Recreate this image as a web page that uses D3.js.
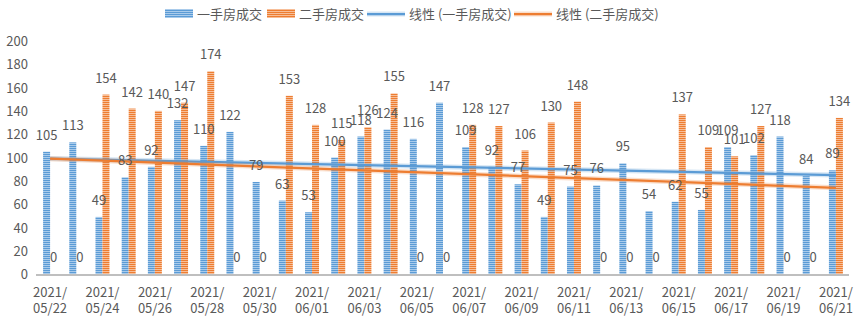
<!DOCTYPE html>
<html>
<head>
<meta charset="utf-8">
<script src="https://cdn.jsdelivr.net/npm/d3@7"></script>
<style>
  html, body { margin: 0; padding: 0; background: #fff; }
  svg { display: block; }
  text { font-family: "Noto Sans CJK SC", "Microsoft YaHei", sans-serif; fill: #595959; }
</style>
</head>
<body>
<svg id="chart" width="858" height="323"></svg>
<script>
// Daily transactions, 2021/05/22 – 2021/06/21
const dates = [
  "2021/05/22","2021/05/23","2021/05/24","2021/05/25","2021/05/26","2021/05/27","2021/05/28",
  "2021/05/29","2021/05/30","2021/05/31","2021/06/01","2021/06/02","2021/06/03","2021/06/04",
  "2021/06/05","2021/06/06","2021/06/07","2021/06/08","2021/06/09","2021/06/10","2021/06/11",
  "2021/06/12","2021/06/13","2021/06/14","2021/06/15","2021/06/16","2021/06/17","2021/06/18",
  "2021/06/19","2021/06/20","2021/06/21"
];
const newHomes = [105,113,49,83,92,132,110,122,79,63,53,100,118,124,116,147,109,92,77,49,75,76,95,54,62,55,109,102,118,84,89];
const resaleHomes = [0,0,154,142,140,147,174,0,0,153,128,115,126,155,0,0,128,127,106,130,148,0,0,0,137,109,101,127,0,0,134];
const seriesNames = ["一手房成交", "二手房成交"];
const trendNames = ["线性 (一手房成交)", "线性 (二手房成交)"];
const yTicks = [0,20,40,60,80,100,120,140,160,180,200];

const colors = ["#5B9BD5", "#ED7D31"];
const stripeLight = ["#A9CBEB", "#F7BE98"];

const svg = d3.select("#chart");
const defs = svg.append("defs");
colors.forEach((c, i) => {
  const p = defs.append("pattern")
    .attr("id", "stripe" + i)
    .attr("patternUnits", "userSpaceOnUse")
    .attr("width", 8).attr("height", 2);
  p.append("rect").attr("width", 8).attr("height", 2).attr("fill", stripeLight[i]);
  p.append("rect").attr("width", 8).attr("height", 1).attr("fill", c);
});

const x = d3.scaleBand().domain(dates).range([37, 849]).paddingInner(0.466).paddingOuter(0.233);
const xs = d3.scaleBand().domain([0, 1]).range([0, x.bandwidth()]);
const y = d3.scaleLinear().domain([0, 200]).range([274, 41]);

// y axis labels (no axis line, no gridlines)
const yAxis = d3.axisLeft(y).tickValues(yTicks).tickSize(0).tickPadding(0);
const gy = svg.append("g").attr("transform", "translate(28,0)").call(yAxis);
gy.select(".domain").remove();
gy.selectAll("text").style("font-size", "13px").attr("fill", "#595959").attr("dy", "0.36em");

// x axis with two-line date labels on every second day
const gx = svg.append("g").attr("transform", "translate(0,274)")
  .call(d3.axisBottom(x).tickSize(0).tickFormat(""));
gx.select(".domain").attr("stroke", "#BFBFBF").attr("stroke-width", 2)
  .attr("d", "M36,1H849");
gx.selectAll(".tick").each(function(d, i) {
  if (i % 2 !== 0) return;
  const t = d3.select(this).append("text")
    .attr("text-anchor", "middle").style("font-size", "13px").attr("fill", "#595959");
  const parts = d.split("/");
  t.append("tspan").attr("x", 0).attr("y", 23).text(parts[0] + "/");
  t.append("tspan").attr("x", 0).attr("y", 39).text(parts[1] + "/" + parts[2]);
});

const series = [newHomes, resaleHomes];

// bars
series.forEach((vals, s) => {
  svg.append("g").selectAll("rect").data(vals).join("rect")
    .attr("x", (d, i) => x(dates[i]) + xs(s))
    .attr("y", d => y(d))
    .attr("width", xs.bandwidth())
    .attr("height", d => y(0) - y(d))
    .attr("fill", `url(#stripe${s})`);
});

// linear trend lines (least squares over day index)
function fit(vals) {
  const n = vals.length;
  const xm = d3.mean(vals, (d, i) => i);
  const ym = d3.mean(vals);
  let num = 0, den = 0;
  vals.forEach((v, i) => { num += (i - xm) * (v - ym); den += (i - xm) * (i - xm); });
  const b = num / den, a = ym - b * xm;
  return [0, n - 1].map(i => [i, a + b * i]);
}
const cx = i => x(dates[i]) + x.bandwidth() / 2;
const trendLine = d3.line().x(d => cx(d[0])).y(d => y(d[1]));
series.forEach((vals, s) => {
  const pts = fit(vals);
  svg.append("path").attr("d", trendLine(pts)).attr("fill", "none")
    .attr("stroke", colors[s]).attr("stroke-opacity", 0.25).attr("stroke-width", 5);
  svg.append("path").attr("d", trendLine(pts)).attr("fill", "none")
    .attr("stroke", colors[s]).attr("stroke-width", 2.25);
});

// data labels
series.forEach((vals, s) => {
  svg.append("g").selectAll("text").data(vals).join("text")
    .attr("x", (d, i) => x(dates[i]) + xs(s) + xs.bandwidth() / 2)
    .attr("y", d => y(d) - 12)
    .attr("text-anchor", "middle")
    .style("font-size", "13px")
    .attr("fill", "#404040")
    .text(d => d);
});

// legend
const lg = svg.append("g").attr("transform", "translate(0,14)");
const items = [
  { type: "bar", s: 0, x: 165, label: seriesNames[0] },
  { type: "bar", s: 1, x: 267, label: seriesNames[1] },
  { type: "line", s: 0, x: 367, label: trendNames[0] },
  { type: "line", s: 1, x: 514, label: trendNames[1] }
];
items.forEach(it => {
  if (it.type === "bar") {
    lg.append("rect").attr("x", it.x).attr("y", -5).attr("width", 28).attr("height", 9)
      .attr("fill", `url(#stripe${it.s})`);
    lg.append("text").attr("x", it.x + 32).attr("y", 0).attr("dy", "0.36em")
      .style("font-size", "13px").text(it.label);
  } else {
    lg.append("line").attr("x1", it.x).attr("x2", it.x + 38).attr("y1", 0).attr("y2", 0)
      .attr("stroke", colors[it.s]).attr("stroke-opacity", 0.25).attr("stroke-width", 5);
    lg.append("line").attr("x1", it.x).attr("x2", it.x + 38).attr("y1", 0).attr("y2", 0)
      .attr("stroke", colors[it.s]).attr("stroke-width", 2.25);
    lg.append("text").attr("x", it.x + 42).attr("y", 0).attr("dy", "0.36em")
      .style("font-size", "13px").text(it.label);
  }
});
</script>
</body>
</html>
